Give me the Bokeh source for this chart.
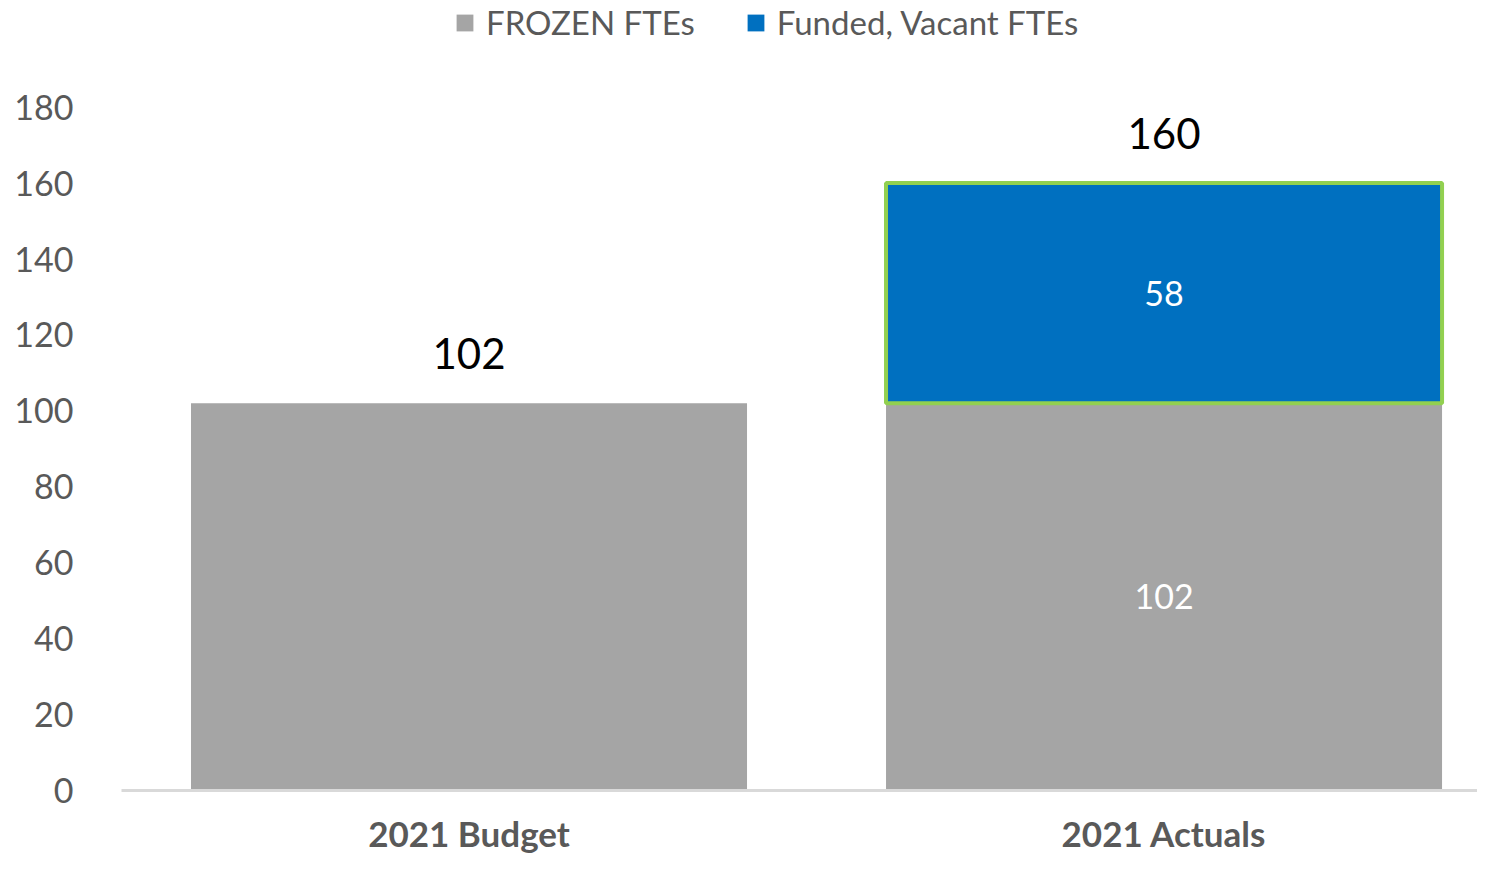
from bokeh.plotting import figure
from bokeh.models import ColumnDataSource, Range1d, FixedTicker, Legend, LegendItem
from bokeh.core.properties import value
from bokeh.embed import file_html
from bokeh.resources import INLINE

categories = ["2021 Budget", "2021 Actuals"]
frozen = [102, 102]
funded = [0, 58]
totals = [102, 160]
y_ticks = [0, 20, 40, 60, 80, 100, 120, 140, 160, 180]

GRAY = "#A5A5A5"
BLUE = "#0070C0"
GREEN = "#92D050"
TXT = "#595959"
FONT = "Lato"

xs = [i + 0.5 for i in range(len(categories))]

p = figure(width=1477, height=856, output_backend="svg", toolbar_location=None,
           x_range=Range1d(0, 1.951), y_range=Range1d(0, 208.1),
           min_border_left=121, min_border_right=0, min_border_top=0, min_border_bottom=64)
p.outline_line_color = None
p.xgrid.visible = False
p.ygrid.visible = False

src_frozen = ColumnDataSource(dict(x=xs, top=frozen, bottom=[0] * len(xs)))
r_frozen = p.vbar(x="x", top="top", bottom="bottom", width=0.8, source=src_frozen,
                  fill_color=GRAY, line_color=None)

fx = [x for x, f in zip(xs, funded) if f > 0]
fb = [fr for fr, f in zip(frozen, funded) if f > 0]
ft = [fr + f for fr, f in zip(frozen, funded) if f > 0]
src_funded = ColumnDataSource(dict(x=fx, top=ft, bottom=fb))
r_funded = p.vbar(x="x", top="top", bottom="bottom", width=0.8, source=src_funded,
                  fill_color=BLUE, line_color=GREEN, line_width=4)

# legend proxy (plain blue swatch, no border); same bars, zero-height, so nothing shows
src_key = ColumnDataSource(dict(x=fx, top=fb, bottom=fb))
r_funded_key = p.vbar(x="x", top="top", bottom="bottom", width=0.8, source=src_key,
                      fill_color=BLUE, line_color=None)

# total labels above bars
p.text(x=xs, y=totals, text=[str(t) for t in totals], text_align="center",
       text_baseline="middle", y_offset=-50, text_font=value(FONT),
       text_font_size="42px", text_color="#000000")

# inner labels for stacked bar
p.text(x=fx, y=[(a + b) / 2 for a, b in zip(fb, ft)],
       text=[str(f) for f in funded if f > 0], text_align="center",
       text_baseline="middle", text_font=value(FONT), text_font_size="34px",
       text_color="#FFFFFF")
p.text(x=fx, y=[b / 2 for b in fb],
       text=[str(b) for b in fb], text_align="center",
       text_baseline="middle", text_font=value(FONT), text_font_size="34px",
       text_color="#FFFFFF")

# axes
p.xaxis.ticker = FixedTicker(ticks=xs)
p.xaxis.major_label_overrides = {x: c for x, c in zip(xs, categories)}
p.xaxis.major_tick_line_color = None
p.xaxis.minor_tick_line_color = None
p.xaxis.axis_line_color = "#D9D9D9"
p.xaxis.axis_line_width = 3
p.xaxis.major_label_text_font = FONT
p.xaxis.major_label_text_font_style = "bold"
p.xaxis.major_label_text_font_size = "35px"
p.xaxis.major_label_text_color = TXT
p.xaxis.major_label_standoff = 15

p.yaxis.ticker = FixedTicker(ticks=y_ticks)
p.yaxis.axis_line_color = None
p.yaxis.major_tick_line_color = None
p.yaxis.minor_tick_line_color = None
p.yaxis.major_label_text_font = FONT
p.yaxis.major_label_text_font_size = "34px"
p.yaxis.major_label_text_color = TXT
p.yaxis.major_label_standoff = 42

legend = Legend(items=[LegendItem(label="FROZEN FTEs", renderers=[r_frozen]),
                       LegendItem(label="Funded, Vacant FTEs", renderers=[r_funded_key])],
                location=(333, 748), orientation="horizontal",
                background_fill_alpha=0, border_line_color=None,
                label_text_font=FONT, label_text_font_size="33px", label_text_color=TXT,
                glyph_width=21, glyph_height=21, label_standoff=11, spacing=50,
                padding=0, margin=0)
p.add_layout(legend, "center")

open("out.html", "w").write(file_html(p, INLINE))
